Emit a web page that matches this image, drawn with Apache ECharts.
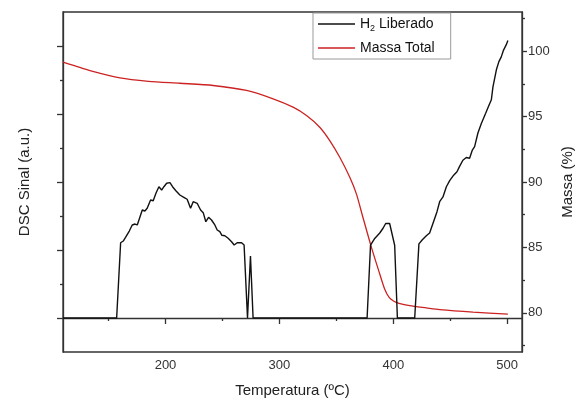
<!DOCTYPE html>
<html><head><meta charset="utf-8">
<script src="https://cdn.jsdelivr.net/npm/echarts@6/dist/echarts.min.js"></script>
<style>html,body{margin:0;padding:0;background:#fff}#c{width:585px;height:403px}</style>
</head><body><div id="c"></div>
<script>
// H2 released (DSC signal, arbitrary units, baseline = 0)
const h2Temp = [110,157.1,160.6,162.9,165.3,168.2,170.8,173.2,175.2,176.9,179.6,181.9,183.9,186.9,189.2,191.6,194.2,196.6,198.6,201.0,203.9,206.2,209.1,212.6,216.1,219.0,222.0,224.3,227.8,230.8,233.1,235.4,237.8,240.4,243.3,245.4,247.7,249.5,252.1,255.0,258.0,260.3,262.9,266.8,269.0,272.0,274.6,276.9,377.0,380.0,383.7,388.1,391.0,393.3,396.8,398.3,401.2,403.6,418.8,422.5,425.5,429.0,431.9,434.8,438.3,440.7,443.6,446.6,449.5,453.0,455.9,458.2,461.1,464.1,467.0,469.4,471.4,474.3,477.3,481.1,484.0,486.1,487.5,490.5,492.7,494.8,496.8,499.2,500.6];
const h2Signal = [0,0,1.107,1.132,1.196,1.279,1.368,1.382,1.368,1.451,1.588,1.574,1.613,1.735,1.725,1.834,1.931,1.882,1.931,1.981,1.99,1.931,1.872,1.809,1.775,1.746,1.613,1.71,1.687,1.588,1.549,1.416,1.481,1.441,1.368,1.294,1.269,1.216,1.21,1.172,1.122,1.074,1.107,1.107,1.074,0,0.912,0,0,1.07,1.17,1.25,1.32,1.39,1.39,1.37,1.07,0,0,1.09,1.15,1.21,1.25,1.39,1.56,1.71,1.78,1.93,2.02,2.10,2.15,2.23,2.32,2.36,2.35,2.47,2.52,2.72,2.86,3.01,3.13,3.21,3.40,3.65,3.77,3.84,3.94,4.02,4.08];
// Total mass (%)
const massTemp = [110,120,133.7,160,185,212.6,241.8,271.1,294.5,312.0,323.8,335.4,344.2,353.0,361.8,367.6,373.0,380.8,388.1,392.5,396.5,400.5,405.0,414.4,429.0,440.7,470,500.6];
const massPct = [99.16,98.9,98.52,97.96,97.7,97.55,97.38,97.0,96.36,95.72,95.08,94.19,93.17,91.89,90.36,89.09,87.4,85.0,82.97,81.8,81.15,80.88,80.72,80.54,80.37,80.24,80.05,79.9];
// Axis ticks
const xMajor = [200,300,400,500];
const xMinor = [150,250,350,450];
const leftMajor = [0,1,2,3,4];
const leftMinor = [0.5,1.5,2.5,3.5];
const rightMajor = [80,85,90,95,100];
const rightMinor = [77.5,82.5,87.5,92.5,97.5,102.5];

const FONT = 'Arial, "Liberation Sans", sans-serif';
const AX = '#333';
const zip = (a,b)=>a.map((v,i)=>[v,b[i]]);

const chart = echarts.init(document.getElementById('c'), null, {renderer:'canvas'});
const lineAxis = {show:true, lineStyle:{color:AX, width:1.3}};
chart.setOption({
  animation:false,
  backgroundColor:'#fff',
  grid:{left:63, right:63, top:12, bottom:51, show:true, borderColor:AX, borderWidth:1.3, containLabel:false},
  legend:{
    left:313, top:13, orient:'vertical', padding:[2,16,2,5], itemGap:6,
    icon:'rect', itemWidth:37, itemHeight:1.5, borderColor:'#999', borderWidth:1, backgroundColor:'#fff',
    textStyle:{fontFamily:FONT, fontSize:14, color:'#111', lineHeight:18,
      rich:{a:{fontFamily:FONT,fontSize:14,color:'#111'}, s:{fontFamily:FONT,fontSize:9,color:'#111',verticalAlign:'bottom',padding:[6,0,0,0]}}},
    formatter:function(n){ return n==='H2 Liberado' ? '{a|H}{s|2}{a| Liberado}' : '{a|'+n+'}'; },
    data:['H2 Liberado','Massa Total']
  },
  xAxis:[
    {type:'value', min:110, max:513, position:'bottom',
     name:'Temperatura (ºC)', nameLocation:'middle', nameGap:31,
     nameTextStyle:{fontFamily:FONT, fontSize:15, color:'#222'},
     axisLine:lineAxis, splitLine:{show:false},
     axisTick:{show:true, length:6, customValues:xMajor, lineStyle:{color:AX, width:1.3}},
     axisLabel:{customValues:xMajor, fontFamily:FONT, fontSize:13, color:'#333', margin:7}},
    {type:'value', min:110, max:513, position:'bottom', axisLine:{show:false}, splitLine:{show:false},
     axisTick:{show:true, length:3, customValues:xMinor, lineStyle:{color:AX, width:1.3}},
     axisLabel:{show:false}}
  ],
  yAxis:[
    {type:'value', min:-0.5, max:4.5, position:'left',
     name:'DSC Sinal (a.u.)', nameLocation:'middle', nameGap:31, nameRotate:90,
     nameTextStyle:{fontFamily:FONT, fontSize:15, color:'#222'},
     axisLine:lineAxis, splitLine:{show:false},
     axisTick:{show:true, length:6, customValues:leftMajor, lineStyle:{color:AX, width:1.3}},
     axisLabel:{show:false}},
    {type:'value', min:-0.5, max:4.5, position:'left', axisLine:{show:false}, splitLine:{show:false},
     axisTick:{show:true, length:3, customValues:leftMinor, lineStyle:{color:AX, width:1.3}},
     axisLabel:{show:false}},
    {type:'value', min:77, max:103, position:'right',
     name:'Massa (%)', nameLocation:'middle', nameGap:30, nameRotate:90,
     nameTextStyle:{fontFamily:FONT, fontSize:15, color:'#222'},
     axisLine:lineAxis, splitLine:{show:false},
     axisTick:{show:true, length:5, customValues:rightMajor, lineStyle:{color:AX, width:1.3}},
     axisLabel:{customValues:rightMajor, fontFamily:FONT, fontSize:13, color:'#333', margin:6}},
    {type:'value', min:77, max:103, position:'right', axisLine:{show:false}, splitLine:{show:false},
     axisTick:{show:true, length:3, customValues:rightMinor, lineStyle:{color:AX, width:1.3}},
     axisLabel:{show:false}}
  ],
  series:[
    {name:'H2 Liberado', type:'line', xAxisIndex:0, yAxisIndex:0, symbol:'none',
     lineStyle:{color:'#111', width:1.4}, itemStyle:{color:'#111'}, data:zip(h2Temp,h2Signal), z:3},
    {name:'Massa Total', type:'line', xAxisIndex:0, yAxisIndex:2, symbol:'none', smooth:0.25,
     lineStyle:{color:'#cc2222', width:1.3}, itemStyle:{color:'#cc2222'}, data:zip(massTemp,massPct), z:2}
  ]
});
</script></body></html>
